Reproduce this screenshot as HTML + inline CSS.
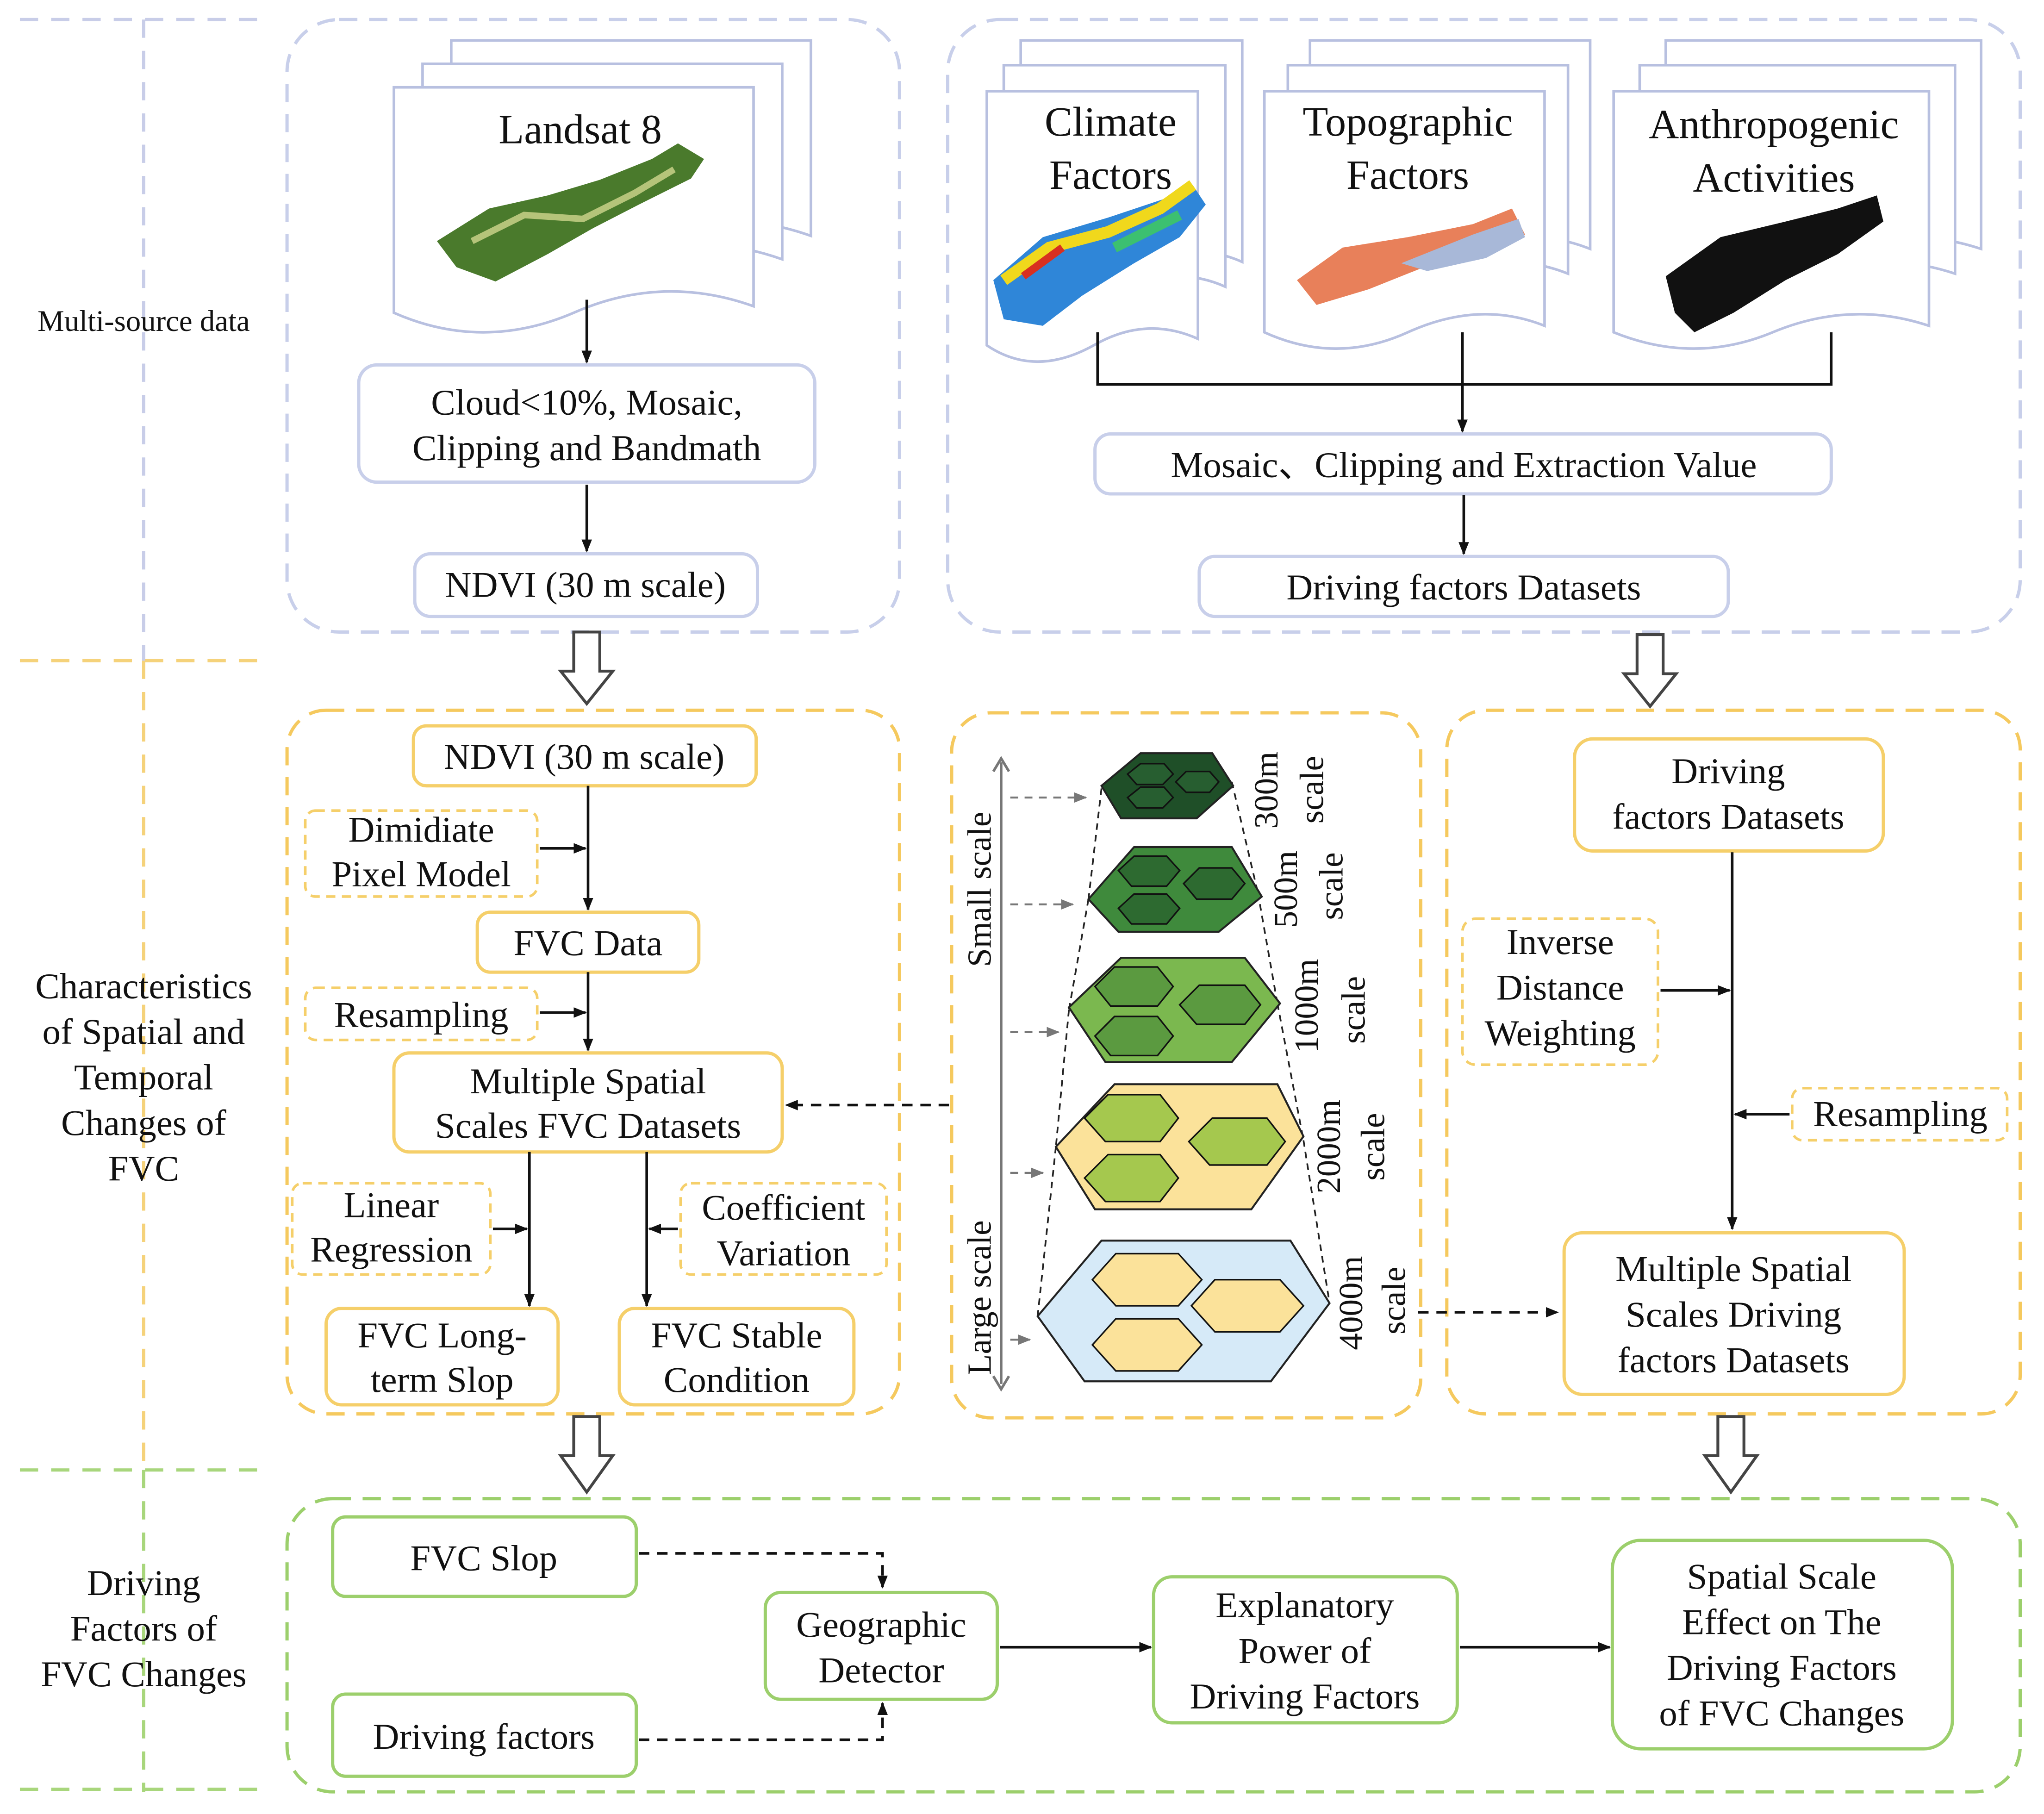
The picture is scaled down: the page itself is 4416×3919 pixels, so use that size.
<!DOCTYPE html>
<html><head><meta charset="utf-8"><style>
html,body{margin:0;padding:0;background:#fff}
svg{display:block}
text{font-family:"Liberation Serif",serif;fill:#111}
</style></head><body>
<svg width="4416" height="3919" viewBox="0 0 1568 1392" xmlns="http://www.w3.org/2000/svg">
<defs>
<marker id="ah" markerWidth="10" markerHeight="10" refX="9" refY="5" orient="auto" markerUnits="userSpaceOnUse"><path d="M0,1 L10,5 L0,9 z" fill="#111"/></marker>
<marker id="ag" markerWidth="10" markerHeight="10" refX="9" refY="5" orient="auto" markerUnits="userSpaceOnUse"><path d="M0,1 L10,5 L0,9 z" fill="#777"/></marker>
</defs>
<g stroke-width="2.5" stroke-dasharray="14,10" fill="none">
<line x1="110" y1="15" x2="110" y2="507" stroke="#c8cde8"/>
<line x1="110" y1="507" x2="110" y2="1128" stroke="#f5d27a"/>
<line x1="110" y1="1128" x2="110" y2="1375" stroke="#a8d67c"/>
<line x1="15" y1="15" x2="205" y2="15" stroke="#c8cde8"/>
<line x1="15" y1="507" x2="205" y2="507" stroke="#f5d27a"/>
<line x1="15" y1="1128" x2="205" y2="1128" stroke="#a8d67c"/>
<line x1="15" y1="1373" x2="205" y2="1373" stroke="#a8d67c"/>
</g>
<text x="110" y="254" font-size="23" text-anchor="middle">Multi-source data</text>
<g font-size="28" text-anchor="middle">
<text x="110" y="766">Characteristics</text><text x="110" y="801">of Spatial and</text><text x="110" y="836">Temporal</text><text x="110" y="871">Changes of</text><text x="110" y="906">FVC</text>
<text x="110" y="1224">Driving</text><text x="110" y="1259">Factors of</text><text x="110" y="1294">FVC Changes</text>
</g>
<g fill="none" stroke-width="2.5" stroke-dasharray="14,9">
<rect x="220" y="15" width="470" height="470" rx="40" stroke="#c8cfea"/>
<rect x="727" y="15" width="823" height="470" rx="40" stroke="#c8cfea"/>
<rect x="220" y="545" width="470" height="540" rx="30" stroke="#f5c95e"/>
<rect x="730" y="547" width="360" height="541" rx="30" stroke="#f5c95e"/>
<rect x="1110" y="545" width="440" height="540" rx="30" stroke="#f5c95e"/>
<rect x="220" y="1150" width="1330" height="225" rx="35" stroke="#9ccf6c"/>
</g>
<g fill="#fff" stroke="#b8c0e0" stroke-width="2">
<path d="M346,31 h276 v150 q-70,-25 -138,5 q-70,30 -138,0 z"/>
<path d="M324,49 h276 v150 q-70,-25 -138,5 q-70,30 -138,0 z"/>
<path d="M302,67 h276 v168 q-70,-25 -138,5 q-70,30 -138,0 z"/>
<path d="M783,31 h170 v170 q-40,-18 -85,5 q-45,25 -85,0 z"/>
<path d="M770,50 h170 v170 q-40,-18 -85,5 q-45,25 -85,0 z"/>
<path d="M757,70 h162 v190 q-40,-18 -80,5 q-45,25 -82,0 z"/>
<path d="M1005,31 h215 v160 q-50,-20 -105,5 q-55,25 -110,0 z"/>
<path d="M988,50 h215 v160 q-50,-20 -105,5 q-55,25 -110,0 z"/>
<path d="M970,70 h215 v180 q-50,-20 -105,5 q-55,25 -110,0 z"/>
<path d="M1278,31 h242 v160 q-60,-20 -120,5 q-60,25 -122,0 z"/>
<path d="M1258,50 h242 v160 q-60,-20 -120,5 q-60,25 -122,0 z"/>
<path d="M1238,70 h242 v180 q-60,-20 -120,5 q-60,25 -122,0 z"/>
</g>
<polygon points="335,185 375,160 420,150 460,138 500,122 520,110 540,122 530,137 490,157 455,175 420,195 380,216 350,205" fill="#4a7a2c"/>
<path d="M362,185 l40,-20 l45,3 l40,-20 l30,-18" stroke="#b5c47a" stroke-width="5" fill="none"/>
<polygon points="762,215 800,182 850,167 895,152 915,142 925,157 905,182 870,202 830,227 800,250 770,245" fill="#2f86d8"/>
<path d="M770,215 l35,-25 l45,-12 l40,-18 l25,-18" stroke="#f0d81c" stroke-width="9" fill="none"/>
<path d="M785,212 l30,-22" stroke="#d83020" stroke-width="6"/>
<path d="M855,190 l50,-25" stroke="#3cc070" stroke-width="8"/>
<polygon points="995,215 1030,190 1080,182 1130,172 1160,160 1170,180 1140,196 1090,206 1050,222 1010,234" fill="#e8805a"/>
<polygon points="1075,202 1130,180 1165,168 1170,182 1140,198 1095,208" fill="#a8b8d8"/>
<polygon points="1278,212 1320,182 1370,170 1410,160 1440,150 1445,170 1410,195 1370,215 1330,240 1300,255 1285,240" fill="#111"/>
<g font-size="32" text-anchor="middle">
<text x="445" y="110">Landsat 8</text>
<text x="852" y="104">Climate</text><text x="852" y="145">Factors</text>
<text x="1080" y="104">Topographic</text><text x="1080" y="145">Factors</text>
<text x="1361" y="106">Anthropogenic</text><text x="1361" y="147">Activities</text>
</g>
<g fill="#fff" stroke="#c8cfea" stroke-width="2.5">
<rect x="275" y="280" width="350" height="90" rx="14"/>
<rect x="318" y="425" width="263" height="48" rx="12"/>
<rect x="840" y="333" width="565" height="46" rx="12"/>
<rect x="920" y="427" width="406" height="46" rx="12"/>
</g>
<g font-size="28" text-anchor="middle">
<text x="450" y="318">Cloud&lt;10%, Mosaic,</text><text x="450" y="353">Clipping and Bandmath</text>
<text x="449" y="458">NDVI (30 m scale)</text>
<text x="1123" y="366">Mosaic、Clipping and Extraction Value</text>
<text x="1123" y="460">Driving factors Datasets</text>
</g>
<g stroke="#111" stroke-width="2" fill="none">
<line x1="450" y1="230" x2="450" y2="278" marker-end="url(#ah)"/>
<line x1="450" y1="372" x2="450" y2="423" marker-end="url(#ah)"/>
<polyline points="842,255 842,295 1405,295 1405,255"/>
<line x1="1122" y1="255" x2="1122" y2="331" marker-end="url(#ah)"/>
<line x1="1123" y1="380" x2="1123" y2="425" marker-end="url(#ah)"/>
</g>
<g fill="#fff" stroke="#444" stroke-width="2.2">
<path d="M440,485 h20 v30 h10 l-20,25 l-20,-25 h10 z"/>
<path d="M1256,487 h20 v30 h10 l-20,25 l-20,-25 h10 z"/>
<path d="M440,1087 h20 v30 h10 l-20,28 l-20,-28 h10 z"/>
<path d="M1318,1087 h20 v30 h10 l-20,28 l-20,-28 h10 z"/>
</g>
<g fill="#fff" stroke="#f5cf6a" stroke-width="2.5">
<rect x="317" y="557" width="263" height="46" rx="10"/>
<rect x="366" y="700" width="170" height="46" rx="10"/>
<rect x="302" y="808" width="298" height="76" rx="12"/>
<rect x="250" y="1004" width="178" height="74" rx="12"/>
<rect x="475" y="1004" width="180" height="74" rx="12"/>
</g>
<g fill="#fff" stroke="#f5cf6a" stroke-width="2" stroke-dasharray="7,5">
<rect x="234" y="622" width="178" height="66" rx="8"/>
<rect x="234" y="758" width="178" height="40" rx="8"/>
<rect x="224" y="908" width="152" height="70" rx="8"/>
<rect x="522" y="908" width="158" height="70" rx="8"/>
</g>
<g font-size="28" text-anchor="middle">
<text x="448" y="590">NDVI (30 m scale)</text>
<text x="323" y="646">Dimidiate</text><text x="323" y="680">Pixel Model</text>
<text x="451" y="733">FVC Data</text>
<text x="323" y="788">Resampling</text>
<text x="451" y="839">Multiple Spatial</text><text x="451" y="873">Scales FVC Datasets</text>
<text x="300" y="934">Linear</text><text x="300" y="968">Regression</text>
<text x="601" y="936">Coefficient</text><text x="601" y="971">Variation</text>
<text x="339" y="1034">FVC Long-</text><text x="339" y="1068">term Slop</text>
<text x="565" y="1034">FVC Stable</text><text x="565" y="1068">Condition</text>
</g>
<g stroke="#111" stroke-width="2" fill="none">
<line x1="451" y1="603" x2="451" y2="698" marker-end="url(#ah)"/>
<line x1="414" y1="651" x2="449" y2="651" marker-end="url(#ah)"/>
<line x1="451" y1="746" x2="451" y2="806" marker-end="url(#ah)"/>
<line x1="414" y1="777" x2="449" y2="777" marker-end="url(#ah)"/>
<line x1="406" y1="884" x2="406" y2="1002" marker-end="url(#ah)"/>
<line x1="496" y1="884" x2="496" y2="1002" marker-end="url(#ah)"/>
<line x1="378" y1="943" x2="404" y2="943" marker-end="url(#ah)"/>
<line x1="520" y1="943" x2="498" y2="943" marker-end="url(#ah)"/>
</g>
<line x1="728" y1="848" x2="603" y2="848" stroke="#111" stroke-width="2" stroke-dasharray="8,6" marker-end="url(#ah)"/>
<g stroke="#777" stroke-width="2" fill="none">
<line x1="768" y1="585" x2="768" y2="1062"/>
<path d="M762,592 l6,-10 l6,10 M762,1056 l6,10 l6,-10"/>
</g>
<g font-size="26" fill="#111">
<text transform="translate(760,742) rotate(-90)">Small scale</text>
<text transform="translate(760,1055) rotate(-90)">Large scale</text>
</g>
<g stroke="#777" stroke-width="1.5" stroke-dasharray="6,5">
<line x1="775" y1="612" x2="833" y2="612" marker-end="url(#ag)"/>
<line x1="775" y1="694" x2="823" y2="694" marker-end="url(#ag)"/>
<line x1="775" y1="792" x2="812" y2="792" marker-end="url(#ag)"/>
<line x1="775" y1="900" x2="800" y2="900" marker-end="url(#ag)"/>
<line x1="775" y1="1028" x2="790" y2="1028" marker-end="url(#ag)"/>
</g>
<g stroke="#222" stroke-width="1.3" stroke-dasharray="5,4" fill="none">
<line x1="845" y1="605" x2="835" y2="690"/><line x1="945" y1="600" x2="965" y2="685"/>
<line x1="835" y1="690" x2="820" y2="775"/><line x1="965" y1="685" x2="980" y2="770"/>
<line x1="820" y1="775" x2="810" y2="880"/><line x1="980" y1="770" x2="1000" y2="875"/>
<line x1="810" y1="880" x2="796" y2="1010"/><line x1="1000" y1="875" x2="1020" y2="1000"/>
</g>
<polygon points="845,603 875,578 930,578 946,603 918,628 860,628" fill="#1f4f28" stroke="#222" stroke-width="1.5"/>
<g fill="#275e30" stroke="#111" stroke-width="1.2">
<polygon points="865,594 875,586 893,586 900,594 892,602 872,602"/>
<polygon points="902,600 910,592 928,592 935,600 928,608 910,608"/>
<polygon points="865,612 875,604 893,604 900,612 892,620 872,620"/>
</g>
<polygon points="835,690 870,650 945,650 968,688 935,715 858,715" fill="#3f8a3c" stroke="#222" stroke-width="1.5"/>
<g fill="#2d6a30" stroke="#111" stroke-width="1.2">
<polygon points="858,668 870,657 895,657 905,668 895,680 868,680"/>
<polygon points="908,678 920,666 945,666 955,678 945,690 918,690"/>
<polygon points="858,697 870,686 895,686 905,697 895,709 868,709"/>
</g>
<polygon points="820,773 860,735 955,735 982,770 945,815 848,815" fill="#7bb84f" stroke="#222" stroke-width="1.5"/>
<g fill="#5b9a40" stroke="#111" stroke-width="1.2">
<polygon points="840,757 855,742 888,742 900,757 888,772 852,772"/>
<polygon points="905,771 920,756 955,756 967,771 955,786 918,786"/>
<polygon points="840,795 855,780 888,780 900,795 888,810 852,810"/>
</g>
<polygon points="810,880 855,832 980,832 1000,872 960,928 840,928" fill="#fbe29a" stroke="#222" stroke-width="1.5"/>
<g fill="#a5c84e" stroke="#111" stroke-width="1.2">
<polygon points="832,858 850,840 890,840 904,858 890,876 848,876"/>
<polygon points="912,876 930,858 972,858 986,876 972,894 928,894"/>
<polygon points="832,904 850,886 890,886 904,904 890,922 848,922"/>
</g>
<polygon points="796,1010 845,952 990,952 1020,1000 975,1060 832,1060" fill="#d6eaf8" stroke="#222" stroke-width="1.5"/>
<g fill="#fbe29a" stroke="#111" stroke-width="1.2">
<polygon points="838,982 856,962 904,962 922,982 904,1002 856,1002"/>
<polygon points="914,1002 932,982 982,982 1000,1002 982,1022 932,1022"/>
<polygon points="838,1032 856,1012 904,1012 922,1032 904,1052 856,1052"/>
</g>
<g font-size="26" fill="#111">
<text transform="translate(980,636) rotate(-90)">300m</text><text transform="translate(1015,632) rotate(-90)">scale</text>
<text transform="translate(995,712) rotate(-90)">500m</text><text transform="translate(1030,706) rotate(-90)">scale</text>
<text transform="translate(1011,808) rotate(-90)">1000m</text><text transform="translate(1047,801) rotate(-90)">scale</text>
<text transform="translate(1028,916) rotate(-90)">2000m</text><text transform="translate(1062,906) rotate(-90)">scale</text>
<text transform="translate(1045,1036) rotate(-90)">4000m</text><text transform="translate(1078,1024) rotate(-90)">scale</text>
</g>
<line x1="1088" y1="1007" x2="1195" y2="1007" stroke="#111" stroke-width="2" stroke-dasharray="8,6" marker-end="url(#ah)"/>
<g fill="#fff" stroke="#f5cf6a" stroke-width="2.5">
<rect x="1208" y="567" width="237" height="86" rx="14"/>
<rect x="1200" y="946" width="261" height="124" rx="14"/>
</g>
<g fill="#fff" stroke="#f5cf6a" stroke-width="2" stroke-dasharray="7,5">
<rect x="1122" y="705" width="150" height="112" rx="10"/>
<rect x="1375" y="835" width="165" height="40" rx="8"/>
</g>
<g font-size="28" text-anchor="middle">
<text x="1326" y="601">Driving</text><text x="1326" y="636">factors Datasets</text>
<text x="1197" y="732">Inverse</text><text x="1197" y="767">Distance</text><text x="1197" y="802">Weighting</text>
<text x="1458" y="864">Resampling</text>
<text x="1330" y="983">Multiple Spatial</text><text x="1330" y="1018">Scales Driving</text><text x="1330" y="1053">factors Datasets</text>
</g>
<g stroke="#111" stroke-width="2" fill="none">
<line x1="1329" y1="654" x2="1329" y2="943" marker-end="url(#ah)"/>
<line x1="1274" y1="760" x2="1327" y2="760" marker-end="url(#ah)"/>
<line x1="1373" y1="855" x2="1331" y2="855" marker-end="url(#ah)"/>
</g>
<g fill="#fff" stroke="#9ccf6c" stroke-width="2.5">
<rect x="255" y="1164" width="233" height="61" rx="10"/>
<rect x="255" y="1300" width="233" height="63" rx="10"/>
<rect x="587" y="1222" width="178" height="82" rx="12"/>
<rect x="885" y="1210" width="233" height="112" rx="14"/>
<rect x="1237" y="1182" width="261" height="160" rx="22"/>
</g>
<g font-size="28" text-anchor="middle">
<text x="371" y="1205">FVC Slop</text>
<text x="371" y="1342">Driving factors</text>
<text x="676" y="1256">Geographic</text><text x="676" y="1291">Detector</text>
<text x="1001" y="1241">Explanatory</text><text x="1001" y="1276">Power of</text><text x="1001" y="1311">Driving Factors</text>
<text x="1367" y="1219">Spatial Scale</text><text x="1367" y="1254">Effect on The</text><text x="1367" y="1289">Driving Factors</text><text x="1367" y="1324">of FVC Changes</text>
</g>
<g stroke="#111" stroke-width="2" fill="none">
<polyline points="490,1192 677,1192 677,1218" stroke-dasharray="8,6" marker-end="url(#ah)"/>
<polyline points="490,1335 677,1335 677,1307" stroke-dasharray="8,6" marker-end="url(#ah)"/>
<line x1="767" y1="1264" x2="883" y2="1264" marker-end="url(#ah)"/>
<line x1="1120" y1="1264" x2="1235" y2="1264" marker-end="url(#ah)"/>
</g>
</svg>
</body></html>
